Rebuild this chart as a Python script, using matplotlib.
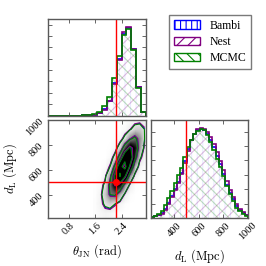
import matplotlib
matplotlib.use("Agg")
from matplotlib import pyplot as plt
from matplotlib.patches import Patch
from matplotlib.ticker import MultipleLocator
from matplotlib.colors import PowerNorm, to_rgba
import numpy as np

# corner plot of theta_JN and d_L posteriors from three samplers

plt.rcParams["font.family"] = "serif"
plt.rcParams["font.serif"] = ["Liberation Serif", "DejaVu Serif"]
plt.rcParams["mathtext.fontset"] = "cm"
plt.rcParams["hatch.linewidth"] = 0.8

methods = ["Bambi", "Nest", "MCMC"]
colors = ["blue", "purple", "green"]
hatches = ["|||", "///", "\\\\\\"]
hatchAlpha = [0.08, 0.25, 0.25]

thetaRange = (0.17, 3.14)
distRange = (212, 1000)
thetaInj = 2.23
distInj = 500

# theta_JN histograms (20 bins over thetaRange), posterior density
thetaBambi = [0, 0, 0, 0, 0, 0, 0, 0.003, 0.008, 0.016, 0.049, 0.107, 0.263, 0.576, 0.988, 1.440, 1.547, 1.169, 0.502, 0.066]
thetaNest = [0, 0, 0, 0, 0, 0, 0, 0.003, 0.007, 0.015, 0.045, 0.100, 0.250, 0.560, 0.975, 1.465, 1.565, 1.180, 0.495, 0.062]
thetaMcmc = [0, 0, 0, 0, 0, 0, 0, 0.004, 0.010, 0.020, 0.066, 0.165, 0.330, 0.660, 1.050, 1.415, 1.530, 1.150, 0.490, 0.062]

# d_L histograms (30 bins over distRange), density in 1e-3 / Mpc
distBambi = [0.034, 0.068, 0.10, 0.17, 0.31, 0.51, 0.75, 1.02, 1.26, 1.56, 1.97, 2.38, 2.72, 2.92, 3.06,
             3.09, 3.06, 2.92, 2.69, 2.45, 2.14, 1.87, 1.53, 1.16, 0.88, 0.65, 0.41, 0.27, 0.17, 0.10]
distNest = [0.03, 0.06, 0.09, 0.15, 0.28, 0.48, 0.72, 0.98, 1.22, 1.52, 1.92, 2.34, 2.70, 2.93, 3.08,
            3.11, 3.09, 3.00, 2.80, 2.56, 2.28, 1.98, 1.66, 1.30, 0.98, 0.74, 0.50, 0.32, 0.20, 0.12]
distMcmc = [0.05, 0.08, 0.14, 0.24, 0.44, 0.70, 0.95, 1.20, 1.50, 1.75, 2.10, 2.45, 2.72, 2.90, 3.02,
            3.09, 3.04, 2.88, 2.62, 2.36, 2.05, 1.78, 1.45, 1.10, 0.82, 0.58, 0.36, 0.24, 0.15, 0.08]

# joint density on a coarse grid (rows: d_L, cols: theta_JN)
gridTheta = [1.6, 1.75, 1.9, 2.05, 2.2, 2.35, 2.5, 2.65, 2.8, 2.95, 3.1]
gridDist = [250, 325, 400, 475, 550, 625, 700, 775, 850, 925, 1000]
gridDensity = [
    [0.03, 0.12, 0.20, 0.15, 0.05, 0.01, 0, 0, 0, 0, 0],
    [0.04, 0.23, 0.68, 0.89, 0.55, 0.15, 0.02, 0, 0, 0, 0],
    [0.02, 0.22, 1.15, 2.7, 2.9, 1.46, 0.33, 0.03, 0, 0, 0],
    [0.01, 0.09, 0.77, 3.1, 5.5, 4.6, 1.8, 0.31, 0.02, 0, 0],
    [0, 0.02, 0.27, 1.9, 6.2, 9.1, 6.2, 1.9, 0.27, 0.02, 0],
    [0, 0, 0.04, 0.55, 3.1, 8.1, 9.7, 5.4, 1.35, 0.16, 0],
    [0, 0, 0, 0.08, 0.82, 3.7, 8.0, 7.8, 3.5, 0.71, 0.07],
    [0, 0, 0, 0.01, 0.12, 1.05, 3.8, 6.1, 4.6, 1.6, 0.25],
    [0, 0, 0, 0, 0.01, 0.12, 0.81, 2.3, 3.1, 1.9, 0.53],
    [0, 0, 0, 0, 0, 0.01, 0.08, 0.41, 0.96, 1.03, 0.52],
    [0, 0, 0, 0, 0, 0, 0, 0.03, 0.1, 0.2, 0.16],
]
contourLevels = {
    "Bambi": [0.5, 2.5, 5.5, 9.0],
    "Nest": [0.45, 2.4, 5.3, 9.2],
    "MCMC": [0.55, 2.7, 5.8, 8.8],
}

thetaHists = [thetaBambi, thetaNest, thetaMcmc]
distHists = [distBambi, distNest, distMcmc]
thetaEdges = np.linspace(thetaRange[0], thetaRange[1], len(thetaBambi) + 1)
distEdges = np.linspace(distRange[0], distRange[1], len(distBambi) + 1)


def styleAxes(ax):
    for s in ax.spines.values():
        s.set_color("0.35")
        s.set_linewidth(1.0)
    ax.tick_params(direction="in", top=True, right=True, length=3, width=0.6,
                   color="0.3", labelsize=7.5, pad=2)


def drawHist(ax, edges, hists):
    for vals, c, h, a in zip(hists, colors, hatches, hatchAlpha):
        ax.stairs(vals, edges, fill=True, facecolor="none", edgecolor=to_rgba(c, a),
                  hatch=h, linewidth=0)
    for vals, c in zip(hists, colors):
        ax.stairs(vals, edges, color=c, linewidth=1.2)


fig = plt.figure(figsize=(2.66, 2.66), dpi=100)
axTop = fig.add_axes([48 / 266, 1 - 115.5 / 266, 98 / 266, 96.5 / 266])
axJoint = fig.add_axes([48 / 266, 1 - 218 / 266, 98 / 266, 98 / 266])
axRight = fig.add_axes([151 / 266, 1 - 218 / 266, 97 / 266, 98 / 266])

# theta marginal
drawHist(axTop, thetaEdges, thetaHists)
axTop.axvline(thetaInj, color="red", linewidth=1)
axTop.set_xlim(thetaRange)
axTop.set_ylim(0, 1.70)
axTop.xaxis.set_major_locator(MultipleLocator(0.8))
axTop.yaxis.set_major_locator(MultipleLocator(0.2))
styleAxes(axTop)
axTop.tick_params(labelbottom=False, labelleft=False)

# joint
dTheta = gridTheta[1] - gridTheta[0]
dDist = gridDist[1] - gridDist[0]
extent = [gridTheta[0] - dTheta / 2, gridTheta[-1] + dTheta / 2,
          gridDist[0] - dDist / 2, gridDist[-1] + dDist / 2]
axJoint.imshow(np.array(gridDensity), origin="lower", extent=extent, aspect="auto",
               cmap="Greys", norm=PowerNorm(gamma=0.75, vmin=0, vmax=5),
               interpolation="bilinear")
for m, c in zip(methods, colors):
    axJoint.contour(gridTheta, gridDist, gridDensity, levels=contourLevels[m],
                    colors=c, linewidths=0.8)
axJoint.axvline(thetaInj, color="red", linewidth=1)
axJoint.axhline(distInj, color="red", linewidth=1)
axJoint.plot([thetaInj], [distInj], "o", color="red", markersize=4)
axJoint.set_xlim(thetaRange)
axJoint.set_ylim(distRange)
axJoint.set_xticks([0.8, 1.6, 2.4])
axJoint.set_yticks([400, 600, 800, 1000])
styleAxes(axJoint)
plt.setp(axJoint.get_xticklabels(), rotation=45)
plt.setp(axJoint.get_yticklabels(), rotation=45)
axJoint.set_xlabel(r"$\theta_{\rm JN}\ ({\rm rad})$", fontsize=9)
axJoint.set_ylabel(r"$d_{\rm L}\ ({\rm Mpc})$", fontsize=9)

# d_L marginal
drawHist(axRight, distEdges, distHists)
axRight.axvline(distInj, color="red", linewidth=1)
axRight.set_xlim(distRange)
axRight.set_ylim(0, 3.4)
axRight.set_xticks([400, 600, 800, 1000])
axRight.yaxis.set_major_locator(MultipleLocator(0.5))
styleAxes(axRight)
axRight.tick_params(labelleft=False)
plt.setp(axRight.get_xticklabels(), rotation=45)
axRight.set_xlabel(r"$d_{\rm L}\ ({\rm Mpc})$", fontsize=9)

handles = [Patch(facecolor="white", edgecolor=c, hatch=h, linewidth=1)
           for c, h in zip(colors, hatches)]
leg = fig.legend(handles, methods, loc="upper right", bbox_to_anchor=(251 / 266, 1 - 15 / 266),
                 fontsize=8.5, fancybox=False, handlelength=2.2, handleheight=0.7,
                 borderpad=0.4, labelspacing=0.35, handletextpad=0.8, borderaxespad=0)
leg.get_frame().set_edgecolor("0.35")
leg.get_frame().set_linewidth(1.0)

plt.savefig("out.png", dpi=100)
